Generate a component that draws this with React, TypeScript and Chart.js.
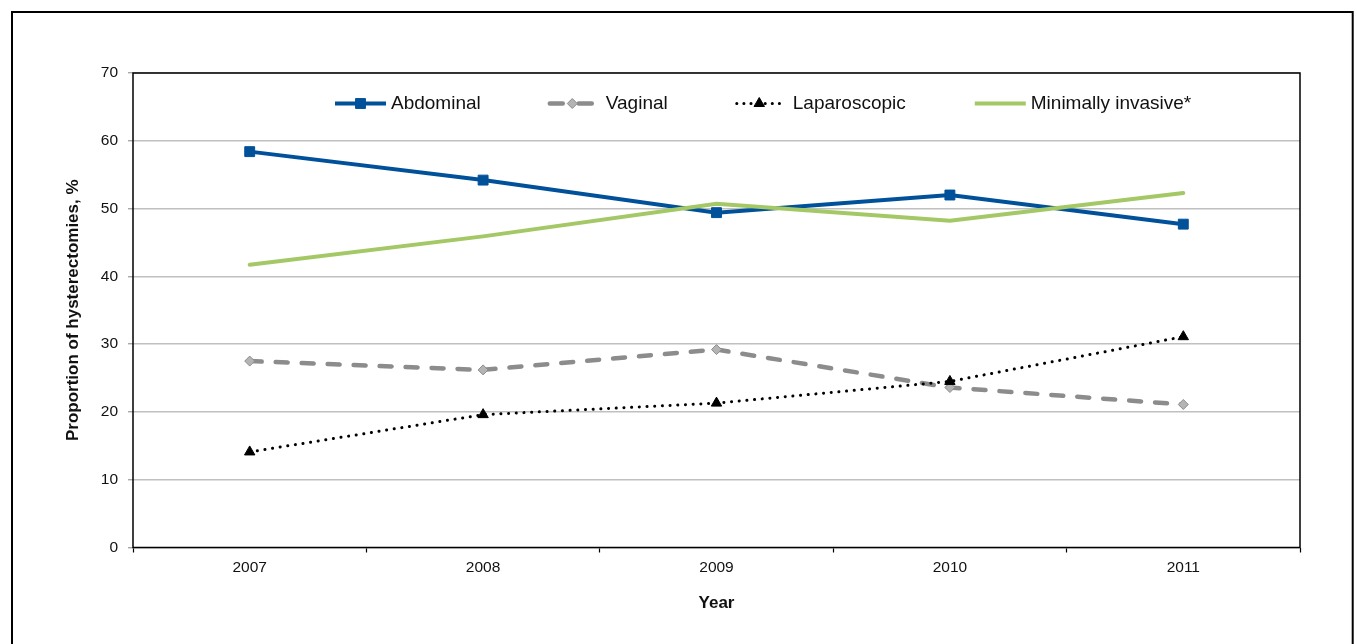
import React, { useEffect, useRef } from "react";
import { Chart, registerables } from "chart.js";

Chart.register(...registerables);

const years = ["2007", "2008", "2009", "2010", "2011"];
const abdominal = [58.4, 54.2, 49.4, 52.0, 47.7];
const vaginal = [27.5, 26.2, 29.2, 23.6, 21.1];
const laparoscopic = [14.1, 19.6, 21.3, 24.5, 31.1];
const minimallyInvasive = [41.7, 45.9, 50.7, 48.2, 52.3];
const seriesNames = ["Abdominal", "Vaginal", "Laparoscopic", "Minimally invasive*"];
const yMin = 0;
const yMax = 70;
const yStep = 10;

const FONT = "'Liberation Sans', Arial, sans-serif";
const BLUE = "#00519A";
const GRAY_LINE = "#8C8C8C";
const GRAY_FILL = "#B4B4B4";
const GREEN = "#A4C865";

type LegendStyle = {
  color: string;
  width: number;
  dash: number[];
  cap: CanvasLineCap;
  visible: number;
  marker: null | "rect" | "rectRot" | "triangle";
  markerFill: string;
  markerStroke: string;
  markerR: number;
};

const LEGEND_LEN = 51;

const legendStyles: LegendStyle[] = [
  { color: BLUE, width: 4, dash: [], cap: "butt", visible: 51, marker: "rect", markerFill: BLUE, markerStroke: BLUE, markerR: 7 },
  { color: GRAY_LINE, width: 4.5, dash: [13, 16], cap: "round", visible: 43, marker: "rectRot", markerFill: GRAY_FILL, markerStroke: GRAY_LINE, markerR: 5 },
  { color: "#000", width: 3, dash: [0.1, 7], cap: "round", visible: 43, marker: "triangle", markerFill: "#000", markerStroke: "#000", markerR: 6 },
  { color: GREEN, width: 4, dash: [], cap: "butt", visible: 51, marker: null, markerFill: GREEN, markerStroke: GREEN, markerR: 0 },
];

const framePlugin = {
  id: "frameAndLegend",
  afterDraw(chart: any) {
    const ctx = chart.ctx as CanvasRenderingContext2D;
    const a = chart.chartArea;
    ctx.save();
    // plot border
    ctx.strokeStyle = "#000";
    ctx.lineWidth = 1.5;
    ctx.setLineDash([]);
    ctx.strokeRect(a.left, a.top, a.right - a.left, a.bottom - a.top);
    // outer frame
    ctx.lineWidth = 2;
    ctx.strokeRect(12, 12, 1340.7, 700);

    // legend
    const y = a.top + 30.5;
    let x = a.left + 202;
    ctx.font = `19px ${FONT}`;
    ctx.textBaseline = "middle";
    ctx.textAlign = "left";
    seriesNames.forEach((name, i) => {
      const s = legendStyles[i];
      ctx.beginPath();
      ctx.strokeStyle = s.color;
      ctx.lineWidth = s.width;
      ctx.lineCap = s.cap;
      ctx.setLineDash(s.dash);
      ctx.moveTo(x, y);
      ctx.lineTo(x + s.visible, y);
      ctx.stroke();
      ctx.setLineDash([]);
      ctx.lineCap = "butt";
      const cx = x + (s.visible === LEGEND_LEN ? LEGEND_LEN / 2 : s.visible / 2 + 1);
      if (s.marker) {
        ctx.beginPath();
        ctx.fillStyle = s.markerFill;
        ctx.strokeStyle = s.markerStroke;
        ctx.lineWidth = 1;
        const r = s.markerR;
        if (s.marker === "rect") {
          const h = r * Math.SQRT1_2;
          ctx.rect(cx - h, y - h, 2 * h, 2 * h);
        } else if (s.marker === "rectRot") {
          ctx.moveTo(cx - r, y);
          ctx.lineTo(cx, y - r);
          ctx.lineTo(cx + r, y);
          ctx.lineTo(cx, y + r);
          ctx.closePath();
        } else {
          ctx.moveTo(cx - r * 0.87, y + r * 0.5);
          ctx.lineTo(cx, y - r);
          ctx.lineTo(cx + r * 0.87, y + r * 0.5);
          ctx.closePath();
        }
        ctx.fill();
        ctx.stroke();
      }
      ctx.fillStyle = "#111";
      const tx = x + LEGEND_LEN + 5;
      ctx.fillText(name, tx, y);
      x = tx + ctx.measureText(name).width + 69;
    });
    ctx.restore();
  },
};

export default function App() {
  const ref = useRef<HTMLCanvasElement | null>(null);

  useEffect(() => {
    if (!ref.current) return;
    const chart = new Chart(ref.current, {
      type: "line",
      data: {
        labels: years,
        datasets: [
          {
            label: seriesNames[0],
            data: abdominal,
            borderColor: BLUE,
            backgroundColor: BLUE,
            borderWidth: 4,
            pointStyle: "rect",
            pointRadius: 7,
            pointBorderWidth: 1,
            pointBorderColor: BLUE,
            pointBackgroundColor: BLUE,
            tension: 0,
            order: 2,
          },
          {
            label: seriesNames[1],
            data: vaginal,
            borderColor: GRAY_LINE,
            backgroundColor: GRAY_FILL,
            borderWidth: 4.5,
            borderDash: [12, 14],
            borderCapStyle: "round",
            pointStyle: "rectRot",
            pointRadius: 5,
            pointBorderWidth: 1,
            pointBorderColor: GRAY_LINE,
            pointBackgroundColor: GRAY_FILL,
            tension: 0,
            order: 4,
          },
          {
            label: seriesNames[2],
            data: laparoscopic,
            borderColor: "#000",
            backgroundColor: "#000",
            borderWidth: 3,
            borderDash: [0.1, 7.6],
            borderCapStyle: "round",
            pointStyle: "triangle",
            pointRadius: 6,
            pointBorderWidth: 1,
            pointBorderColor: "#000",
            pointBackgroundColor: "#000",
            tension: 0,
            order: 3,
          },
          {
            label: seriesNames[3],
            data: minimallyInvasive,
            borderColor: GREEN,
            backgroundColor: GREEN,
            borderWidth: 4,
            borderCapStyle: "round",
            pointRadius: 0,
            tension: 0,
            order: 1,
          },
        ],
      },
      options: {
        responsive: false,
        animation: false,
        devicePixelRatio: 1,
        layout: { padding: { left: 53, top: 73, right: 57, bottom: 0 } },
        plugins: {
          legend: { display: false },
          tooltip: { enabled: false },
          title: { display: false },
        },
        scales: {
          x: {
            type: "category",
            offset: true,
            border: { display: false },
            grid: {
              offset: true,
              drawOnChartArea: false,
              drawTicks: true,
              tickLength: 5,
              tickColor: "#000",
              tickWidth: 1.2,
            },
            ticks: {
              color: "#111",
              font: { family: FONT, size: 15.5 },
              padding: 6,
              maxRotation: 0,
            },
            title: {
              display: true,
              text: "Year",
              color: "#111",
              font: { family: FONT, size: 17, weight: "bold" },
              padding: { top: 0, bottom: 30 },
            },
            afterFit: (scale: any) => {
              scale.height = 96.5;
            },
          },
          y: {
            min: yMin,
            max: yMax,
            border: { display: false },
            grid: {
              color: "#C0C0C0",
              lineWidth: 1.5,
              drawTicks: true,
              tickLength: 5,
              tickColor: "#999",
              tickWidth: 1.2,
            },
            ticks: {
              stepSize: yStep,
              color: "#111",
              font: { family: FONT, size: 15.5 },
              padding: 10,
            },
            title: {
              display: true,
              text: "Proportion of hysterectomies, %",
              color: "#111",
              font: { family: FONT, size: 17, weight: "bold" },
              padding: { top: 9.8, bottom: 0 },
            },
            afterFit: (scale: any) => {
              scale.width = 80;
            },
          },
        },
      },
      plugins: [framePlugin],
    } as any);
    return () => chart.destroy();
  }, []);

  return (
    <div style={{ position: "fixed", left: 0, top: 0, width: 1357, height: 644, background: "#fff" }}>
      <canvas ref={ref} width={1357} height={644} style={{ display: "block", width: 1357, height: 644 }} />
    </div>
  );
}
